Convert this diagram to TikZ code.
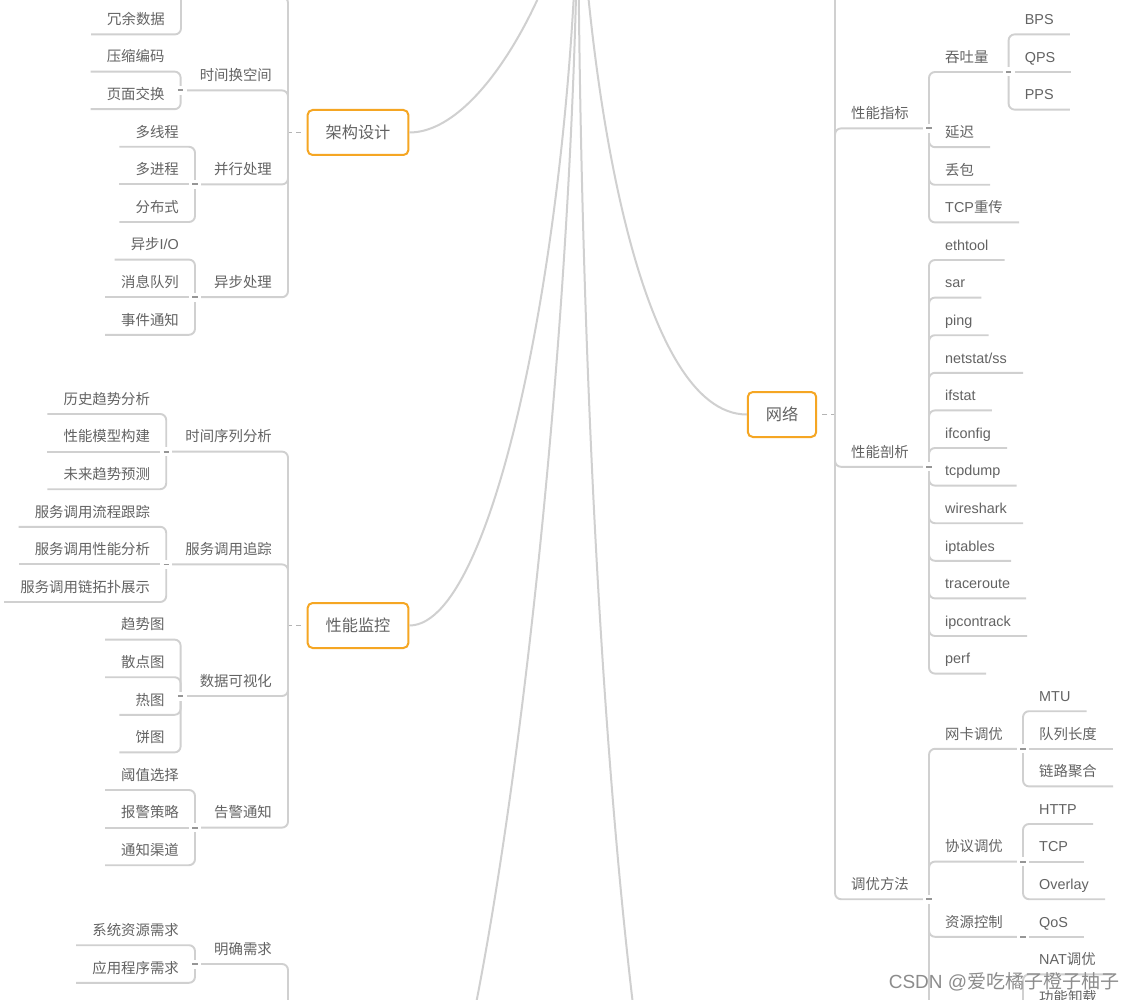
\documentclass[tikz,border=0pt]{standalone}
\usepackage{fontspec}
\setmainfont{Noto Sans CJK SC}
\newfontfamily\latfont{Liberation Sans}
\usepackage{xcolor}
\definecolor{cLine}{HTML}{D0D0D0}
\definecolor{cText}{HTML}{636363}
\definecolor{cBox}{HTML}{F5A623}
\definecolor{cFold}{HTML}{969696}
\definecolor{cStub}{HTML}{B4B4B4}
\definecolor{cMark}{HTML}{8C8C8C}
\usetikzlibrary{positioning,calc}
\tikzset{
  node-box/.style={draw=cBox,line width=2pt,rounded corners=5pt,fill=white,
    minimum height=45pt,inner xsep=18pt,text=cText,
    font=\fontsize{16.2}{19}\selectfont},
  node-topic/.style={inner xsep=16pt,inner ysep=0pt,text height=12pt,
    text depth=9.5pt,text=cText,font=\fontsize{14.4}{17}\selectfont},
  node-lat/.style={font=\latfont\fontsize{14.4}{17}\selectfont},
  topic-l/.style={node-topic,anchor=south east},
  topic-r/.style={node-topic,anchor=south west},
  % 折叠标记: 白底遮住主干, 中间一小横
  node-fold/.style={fill=white,inner sep=0pt,minimum width=12pt,
    minimum height=9pt,path picture={\draw[cFold,line width=1.8pt]
      ([xshift=-2.7pt]path picture bounding box.center) --
      ([xshift=2.7pt]path picture bounding box.center);}},
  link/.style={draw=cLine,line width=1.9pt,rounded corners=6pt},
  link-main/.style={draw=cLine,line width=2pt},
  link-stub/.style={draw=cStub,line width=1.8pt,
    dash pattern=on 4pt off 4pt on 5pt off 20pt},
}

\begin{document}
\begin{tikzpicture}[x=1pt,y=-1pt]
  \useasboundingbox (0,0) rectangle (1135,1000);
  \fill[white] (0,0) rectangle (1135,1000);
  \clip (0,0) rectangle (1135,1000);

  % 中心主题及画面外的分支 (只留坐标)
  \coordinate (root)   at (578,-150);
  \coordinate (box-l3) at (409,1200);
  \coordinate (box-r2) at (747,1400);

  % ---------------- 架构设计 ----------------
  \node[node-box] (jgsj) at (358,132.5) {架构设计};
  \coordinate (j-jgsj)  at (288,132.5);
  \coordinate (kjhsj)   at (184,-3.2);
  \coordinate (j-kjhsj) at (181,-3.2);
  \node[topic-l] (sjhkj) at (288,90.4)  {时间换空间};
  \node[topic-l] (bxcl)  at (288,184.4) {并行处理};
  \node[topic-l] (ybcl)  at (288,297.2) {异步处理};
  \coordinate (j-sjhkj) at ($(sjhkj.south west)+(-3,0)$);
  \coordinate (j-bxcl)  at ($(bxcl.south west)+(-3,0)$);
  \coordinate (j-ybcl)  at ($(ybcl.south west)+(-3,0)$);
  \node[topic-l] (rysj) at (j-kjhsj |- 0,34.4) {冗余数据};
  \node[topic-l] (ysbm) at (j-sjhkj |- 0,71.6) {压缩编码};
  \node[topic-l] (ymjh) at (j-sjhkj |- 0,109.2) {页面交换};
  \node[topic-l] (dxc)  at (j-bxcl |- 0,146.8) {多线程};
  \node[topic-l] (djc)  at (j-bxcl) {多进程};
  \node[topic-l] (fbs)  at (j-bxcl |- 0,222) {分布式};
  \node[topic-l] (ybio) at (j-ybcl |- 0,259.6) {异步{\latfont I/O}};
  \node[topic-l] (xxdl) at (j-ybcl) {消息队列};
  \node[topic-l] (sjtz) at (j-ybcl |- 0,334.8) {事件通知};

  \draw[link-stub] (j-jgsj) -- (jgsj.west);
  \draw[link] (j-jgsj) |- (kjhsj);
  \draw[link] (j-jgsj) |- (sjhkj.south west);
  \draw[link] (j-jgsj) |- (bxcl.south west);
  \draw[link] (j-jgsj) |- (ybcl.south west);
  \draw[link] (j-kjhsj) |- (rysj.south west);
  \draw[link] (j-sjhkj) |- (ysbm.south west);
  \draw[link] (j-sjhkj) |- (ymjh.south west);
  \draw[link] (j-bxcl) |- (dxc.south west);
  \draw[link] (j-bxcl) -- (djc.south west);
  \draw[link] (j-bxcl) |- (fbs.south west);
  \draw[link] (j-ybcl) |- (ybio.south west);
  \draw[link] (j-ybcl) -- (xxdl.south west);
  \draw[link] (j-ybcl) |- (sjtz.south west);

  % ---------------- 性能监控 ----------------
  \node[node-box] (xnjk) at (358,625.5) {性能监控};
  \coordinate (j-xnjk) at (288,625.5);
  \node[topic-l] (sjxlfx) at (288,451.6) {时间序列分析};
  \node[topic-l] (fwdyzz) at (288,564.4) {服务调用追踪};
  \node[topic-l] (sjksh)  at (288,696)   {数据可视化};
  \node[topic-l] (gjtz)   at (288,827.6) {告警通知};
  \coordinate (j-sjxlfx) at ($(sjxlfx.south west)+(-3,0)$);
  \coordinate (j-fwdyzz) at ($(fwdyzz.south west)+(-3,0)$);
  \coordinate (j-sjksh)  at ($(sjksh.south west)+(-3,0)$);
  \coordinate (j-gjtz)   at ($(gjtz.south west)+(-3,0)$);
  \node[topic-l] (lsqs)   at (j-sjxlfx |- 0,414) {历史趋势分析};
  \node[topic-l] (xnmx)   at (j-sjxlfx) {性能模型构建};
  \node[topic-l] (wlqs)   at (j-sjxlfx |- 0,489.2) {未来趋势预测};
  \node[topic-l] (fwlc)   at (j-fwdyzz |- 0,526.8) {服务调用流程跟踪};
  \node[topic-l] (fwxn)   at (j-fwdyzz) {服务调用性能分析};
  \node[topic-l] (fwtp)   at (j-fwdyzz |- 0,602) {服务调用链拓扑展示};
  \node[topic-l] (qst)    at (j-sjksh |- 0,639.6) {趋势图};
  \node[topic-l] (sdt)    at (j-sjksh |- 0,677.2) {散点图};
  \node[topic-l] (rt)     at (j-sjksh |- 0,714.8) {热图};
  \node[topic-l] (bt)     at (j-sjksh |- 0,752.4) {饼图};
  \node[topic-l] (yzxz)   at (j-gjtz |- 0,790) {阈值选择};
  \node[topic-l] (bjcl)   at (j-gjtz) {报警策略};
  \node[topic-l] (tzqd)   at (j-gjtz |- 0,865.2) {通知渠道};

  \draw[link-stub] (j-xnjk) -- (xnjk.west);
  \draw[link] (j-xnjk) |- (sjxlfx.south west);
  \draw[link] (j-xnjk) |- (fwdyzz.south west);
  \draw[link] (j-xnjk) |- (sjksh.south west);
  \draw[link] (j-xnjk) |- (gjtz.south west);
  \draw[link] (j-sjxlfx) |- (lsqs.south west);
  \draw[link] (j-sjxlfx) -- (xnmx.south west);
  \draw[link] (j-sjxlfx) |- (wlqs.south west);
  \draw[link] (j-fwdyzz) |- (fwlc.south west);
  \draw[link] (j-fwdyzz) -- (fwxn.south west);
  \draw[link] (j-fwdyzz) |- (fwtp.south west);
  \draw[link] (j-sjksh) |- (qst.south west);
  \draw[link] (j-sjksh) |- (sdt.south west);
  \draw[link] (j-sjksh) |- (rt.south west);
  \draw[link] (j-sjksh) |- (bt.south west);
  \draw[link] (j-gjtz) |- (yzxz.south west);
  \draw[link] (j-gjtz) -- (bjcl.south west);
  \draw[link] (j-gjtz) |- (tzqd.south west);

  % ---------------- 第三个分支 (框在画面外) ----------------
  \coordinate (j-box-l3) at (288,1200);
  \node[topic-l] (mqxq) at (288,964) {明确需求};
  \coordinate (j-mqxq) at ($(mqxq.south west)+(-3,0)$);
  \node[topic-l] (xtzy) at (j-mqxq |- 0,945.2) {系统资源需求};
  \node[topic-l] (yycx) at (j-mqxq |- 0,982.8) {应用程序需求};
  \draw[link] (j-box-l3) |- (mqxq.south west);
  \draw[link] (j-mqxq) |- (xtzy.south west);
  \draw[link] (j-mqxq) |- (yycx.south west);

  % ---------------- 网络 ----------------
  \node[node-box] (wl) at (782,414.5) {网络};
  \coordinate (j-wl) at (835,414.5);
  \coordinate (wl-first) at (925,-30);
  \node[topic-r] (xnzb) at (835,128.4) {性能指标};
  \node[topic-r] (xnpx) at (835,466.8) {性能剖析};
  \node[topic-r] (tyff) at (835,899.2) {调优方法};
  \coordinate (j-xnzb) at ($(xnzb.south east)+(4,0)$);
  \coordinate (j-xnpx) at ($(xnpx.south east)+(4,0)$);
  \coordinate (j-tyff) at ($(tyff.south east)+(4,0)$);

  \node[topic-r] (tul)   at (j-xnzb |- 0,72)    {吞吐量};
  \node[topic-r] (yc)    at (j-xnzb |- 0,147.2) {延迟};
  \node[topic-r] (db)    at (j-xnzb |- 0,184.8) {丢包};
  \node[topic-r] (tcpcc) at (j-xnzb |- 0,222.4) {{\latfont TCP}重传};
  \coordinate (j-tul) at ($(tul.south east)+(4,0)$);
  \node[topic-r,node-lat] (bps) at (j-tul |- 0,34.4)  {BPS};
  \node[topic-r,node-lat] (qps) at (j-tul)            {QPS};
  \node[topic-r,node-lat] (pps) at (j-tul |- 0,109.6) {PPS};

  \node[topic-r,node-lat] (ethtool)  at (j-xnpx |- 0,260)   {ethtool};
  \node[topic-r,node-lat] (sar)      at (j-xnpx |- 0,297.6) {sar};
  \node[topic-r,node-lat] (ping)     at (j-xnpx |- 0,335.2) {ping};
  \node[topic-r,node-lat] (netstat)  at (j-xnpx |- 0,372.8) {netstat/ss};
  \node[topic-r,node-lat] (ifstat)   at (j-xnpx |- 0,410.4) {ifstat};
  \node[topic-r,node-lat] (ifconfig) at (j-xnpx |- 0,448)   {ifconfig};
  \node[topic-r,node-lat] (tcpdump)  at (j-xnpx |- 0,485.6) {tcpdump};
  \node[topic-r,node-lat] (wireshark) at (j-xnpx |- 0,523.2) {wireshark};
  \node[topic-r,node-lat] (iptables) at (j-xnpx |- 0,560.8) {iptables};
  \node[topic-r,node-lat] (tracert)  at (j-xnpx |- 0,598.4) {traceroute};
  \node[topic-r,node-lat] (ipct)     at (j-xnpx |- 0,636)   {ipcontrack};
  \node[topic-r,node-lat] (perf)     at (j-xnpx |- 0,673.6) {perf};

  \node[topic-r] (wktu) at (j-tyff |- 0,748.8) {网卡调优};
  \node[topic-r] (xytu) at (j-tyff |- 0,861.6) {协议调优};
  \node[topic-r] (zykz) at (j-tyff |- 0,936.8) {资源控制};
  \coordinate (j-wktu) at ($(wktu.south east)+(4,0)$);
  \coordinate (j-xytu) at ($(xytu.south east)+(4,0)$);
  \coordinate (j-zykz) at ($(zykz.south east)+(4,0)$);
  \coordinate (j-tf-4) at (j-zykz |- 0,1030.8);
  \coordinate (tf-4)   at ($(j-tf-4)+(-4,0)$);
  \node[topic-r,node-lat] (mtu)  at (j-wktu |- 0,711.2) {MTU};
  \node[topic-r]          (dlcd) at (j-wktu)            {队列长度};
  \node[topic-r]          (lljh) at (j-wktu |- 0,786.4) {链路聚合};
  \node[topic-r,node-lat] (http) at (j-xytu |- 0,824)   {HTTP};
  \node[topic-r,node-lat] (tcp)  at (j-xytu)            {TCP};
  \node[topic-r,node-lat] (overlay) at (j-xytu |- 0,899.2) {Overlay};
  \node[topic-r,node-lat] (qos)  at (j-zykz)            {QoS};
  \node[topic-r] (nattu) at (j-tf-4 |- 0,974.4) {{\latfont NAT}调优};
  \node[topic-r] (gnxz)  at (j-tf-4 |- 0,1012)  {功能卸载};

  \draw[link-stub] (j-wl) -- (wl.east);
  \draw[link] (j-wl) |- (wl-first);
  \draw[link] (j-wl) |- (xnzb.south east);
  \draw[link] (j-wl) |- (xnpx.south east);
  \draw[link] (j-wl) |- (tyff.south east);
  \draw[link] (j-xnzb) |- (tul.south east);
  \draw[link] (j-xnzb) |- (yc.south east);
  \draw[link] (j-xnzb) |- (db.south east);
  \draw[link] (j-xnzb) |- (tcpcc.south east);
  \draw[link] (j-tul) |- (bps.south east);
  \draw[link] (j-tul) -- (qps.south east);
  \draw[link] (j-tul) |- (pps.south east);
  \draw[link] (j-xnpx) |- (ethtool.south east);
  \draw[link] (j-xnpx) |- (sar.south east);
  \draw[link] (j-xnpx) |- (ping.south east);
  \draw[link] (j-xnpx) |- (netstat.south east);
  \draw[link] (j-xnpx) |- (ifstat.south east);
  \draw[link] (j-xnpx) |- (ifconfig.south east);
  \draw[link] (j-xnpx) |- (tcpdump.south east);
  \draw[link] (j-xnpx) |- (wireshark.south east);
  \draw[link] (j-xnpx) |- (iptables.south east);
  \draw[link] (j-xnpx) |- (tracert.south east);
  \draw[link] (j-xnpx) |- (ipct.south east);
  \draw[link] (j-xnpx) |- (perf.south east);
  \draw[link] (j-tyff) |- (wktu.south east);
  \draw[link] (j-tyff) |- (xytu.south east);
  \draw[link] (j-tyff) |- (zykz.south east);
  \draw[link] (j-tyff) |- (tf-4);
  \draw[link] (j-wktu) |- (mtu.south east);
  \draw[link] (j-wktu) -- (dlcd.south east);
  \draw[link] (j-wktu) |- (lljh.south east);
  \draw[link] (j-xytu) |- (http.south east);
  \draw[link] (j-xytu) -- (tcp.south east);
  \draw[link] (j-xytu) |- (overlay.south east);
  \draw[link] (j-zykz) -- (qos.south east);
  \draw[link] (j-tf-4) |- (nattu.south east);
  \draw[link] (j-tf-4) |- (gnxz.south east);

  % 中心主题的曲线
  \draw[link-main] (root) .. controls (575,-50) and (490,132.5) .. (jgsj.east);
  \draw[link-main] (root) .. controls (578,200) and (500,625.5) .. (xnjk.east);
  \draw[link-main] (root) .. controls (578,450) and (470,1200) .. (box-l3);
  \draw[link-main] (root) .. controls (578,600) and (640,1400) .. (box-r2);
  \draw[link-main] (root) .. controls (588,100) and (640,414.5) .. (wl.west);

  % 折叠标记
  \node[node-fold] (f-sjhkj)  at (j-sjhkj) {};
  \node[node-fold] (f-bxcl)   at (j-bxcl) {};
  \node[node-fold] (f-ybcl)   at (j-ybcl) {};
  \node[node-fold] (f-sjxlfx) at (j-sjxlfx) {};
  \node[node-fold] (f-fwdyzz) at (j-fwdyzz) {};
  \node[node-fold] (f-sjksh)  at (j-sjksh) {};
  \node[node-fold] (f-gjtz)   at (j-gjtz) {};
  \node[node-fold] (f-mqxq)   at (j-mqxq) {};
  \node[node-fold] (f-xnzb)   at (j-xnzb) {};
  \node[node-fold] (f-tul)    at (j-tul) {};
  \node[node-fold] (f-xnpx)   at (j-xnpx) {};
  \node[node-fold] (f-tyff)   at (j-tyff) {};
  \node[node-fold] (f-wktu)   at (j-wktu) {};
  \node[node-fold] (f-xytu)   at (j-xytu) {};
  \node[node-fold] (f-zykz)   at (j-zykz) {};

  % 水印
  \node[text=cMark,font=\fontsize{19}{22}\selectfont,inner sep=0pt] (csdn)
    at (1004,982) {{\latfont CSDN @}爱吃橘子橙子柚子};
\end{tikzpicture}
\end{document}
